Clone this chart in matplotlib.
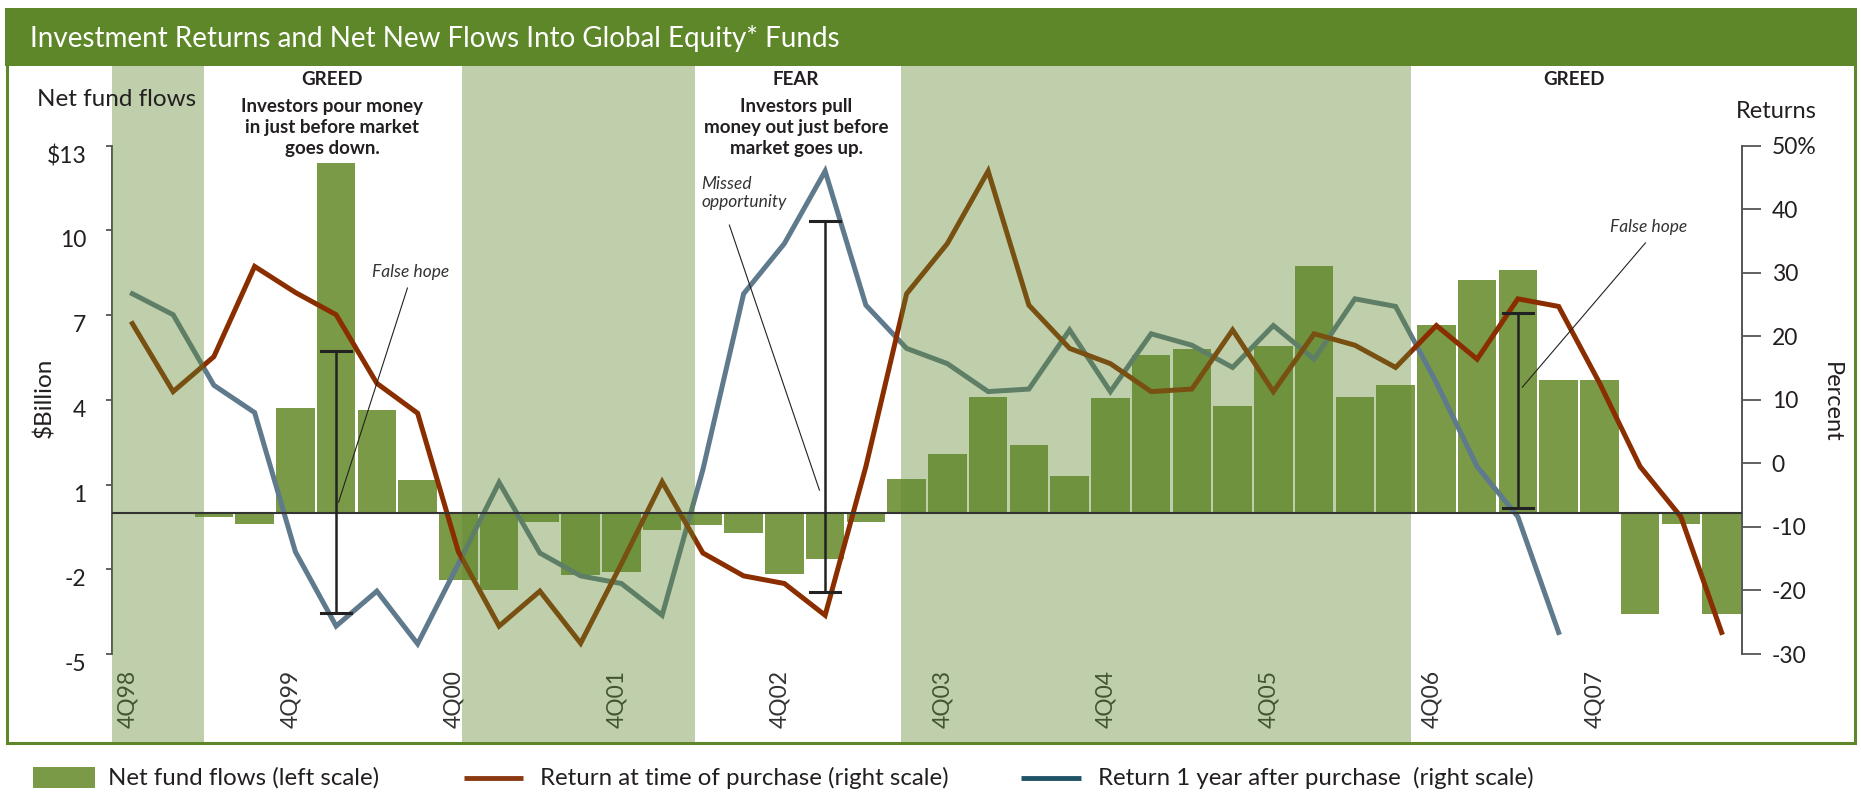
import matplotlib
matplotlib.use('Agg')
import matplotlib.pyplot as plt
from matplotlib.patches import Rectangle
from matplotlib.lines import Line2D

plt.rcParams['font.family'] = ['Lato', 'DejaVu Sans']

# Quarterly data, 4Q98 .. 3Q08
year_labels = ['4Q98', '4Q99', '4Q00', '4Q01', '4Q02', '4Q03', '4Q04', '4Q05', '4Q06', '4Q07']
year_label_pos = [0, 4, 8, 12, 16, 20, 24, 28, 32, 36]

# Net fund flows, $ billion (left scale)
flows = [-0.05, -0.02, -0.15, -0.41, 3.71, 12.38, 3.63, 1.15,
         -2.37, -2.73, -0.34, -2.20, -2.08, -0.62, -0.44, -0.73,
         -2.15, -1.62, -0.34, 1.18, 2.10, 4.09, 2.39, 1.29,
         4.05, 5.58, 5.79, 3.77, 5.89, 8.73, 4.10, 4.51,
         6.64, 8.23, 8.59, 4.72, 4.69, -3.57, -0.38, -3.57]

# Return at time of purchase, percent (right scale)
ret_purchase = [22.0, 11.3, 16.8, 31.0, 26.9, 23.4, 12.6, 7.9,
                -13.9, -25.6, -20.1, -28.3, -15.8, -2.9, -14.1, -17.7,
                -18.9, -23.9, -0.5, 26.7, 34.6, 46.0, 24.9, 18.1,
                15.7, 11.3, 11.7, 21.0, 11.3, 20.4, 18.6, 15.1,
                21.7, 16.4, 25.9, 24.7, 12.7, -0.5, -8.4, -26.6]

# Return 1 year after purchase, percent (right scale)
ret_year_after = [26.7, 23.4, 12.3, 8.0, -13.9, -25.6, -20.1, -28.4,
                  -15.8, -3.0, -14.1, -17.7, -18.9, -23.9, -1.0, 26.7,
                  34.6, 46.0, 24.9, 18.1, 15.7, 11.3, 11.7, 21.0,
                  11.3, 20.4, 18.6, 15.1, 21.7, 16.4, 25.9, 24.7,
                  12.7, -0.5, -8.4, -26.6]

# shaded periods (quarter index)
bands = [(-0.5, 1.76), (8.08, 13.8), (18.85, 31.37)]

# the "gap" markers (quarter index, top %, bottom %)
gap_x = [5, 17, 34]
gap_top = [17.7, 38.1, 23.7]
gap_bottom = [-23.6, -20.2, -7.0]

left_ticks = [-5, -2, 1, 4, 7, 10, 13]
left_ticklabels = ['-5', '-2', '1', '4', '7', '10', '$13']
right_ticks = [-30, -20, -10, 0, 10, 20, 30, 40, 50]
right_ticklabels = ['-30', '-20', '-10', '0', '10', '20', '30', '40', '50%']

green = '#5e8729'
bar_color = '#7a9a48'
red = '#8a2e00'
blue = '#5e7a8c'
band_color = '#5e882e'
text_color = '#231f20'

W, H = 1861, 793
fig = plt.figure(figsize=(W / 100, H / 100), dpi=100)

# background layer in pixel coordinates
bg = fig.add_axes([0, 0, 1, 1], zorder=-1)
bg.set_xlim(0, W)
bg.set_ylim(H, 0)
bg.axis('off')
bg.add_patch(Rectangle((5, 8), 1852, 58, color=green, lw=0))
bg.plot([7, 7, 1855, 1855], [66, 743, 743, 66], color=green, lw=2.2,
        solid_joinstyle='miter')


def ftext(x, y, s, **kw):
    return fig.text(x, y, s, transform=bg.transData, **kw)


ftext(30, 38, 'Investment Returns and Net New Flows Into Global Equity* Funds',
      color='white', fontsize=20, va='center', ha='left')

# main plot
ax = fig.add_axes([112 / W, 1 - 743 / H, 1630 / W, 677 / H])
ax.patch.set_alpha(0)
ax2 = ax.twinx()
ax2.patch.set_alpha(0)

x = list(range(len(flows)))
ax.bar(x, flows, width=0.95, color=bar_color, lw=0, zorder=2)

ax2.plot(range(len(ret_year_after)), ret_year_after, color=blue, lw=3.6,
         solid_joinstyle='miter', zorder=2)
ax2.plot(range(len(ret_purchase)), ret_purchase, color=red, lw=3.6,
         solid_joinstyle='miter', zorder=2)

for a, b in bands:
    ax2.axvspan(a, b, color=band_color, alpha=0.395, lw=0, zorder=4)

ax2.add_line(Line2D([-0.5, 39.5], [0, 0], transform=ax.transData,
                    color='#333333', lw=1.5, zorder=5))

for g, t, b in zip(gap_x, gap_top, gap_bottom):
    ax2.plot([g, g], [b, t], color='#222222', lw=1.8, zorder=6)
    ax2.plot([g - 0.37, g + 0.37], [t, t], color='#222222', lw=2.2, zorder=6)
    ax2.plot([g - 0.37, g + 0.37], [b, b], color='#222222', lw=2.2, zorder=6)

# annotations
ax2.text(6.83, 30.1, 'False hope', fontsize=12.5, style='italic', color='#333333',
         ha='center', va='center', zorder=6)
ax2.plot([6.75, 5.06], [27.6, -6.1], color='#222222', lw=0.8, zorder=6)
ax2.text(13.96, 42.6, 'Missed\nopportunity', fontsize=12.5, style='italic',
         color='#333333', ha='left', va='center', linespacing=1.15, zorder=6)
ax2.plot([14.65, 16.86], [37.5, -4.2], color='#222222', lw=0.8, zorder=6)
ax2.text(37.2, 37.2, 'False hope', fontsize=12.5, style='italic', color='#333333',
         ha='center', va='center', zorder=6)
ax2.plot([37.13, 34.11], [34.7, 12.0], color='#222222', lw=0.8, zorder=6)

# quarter labels sit under the shading
for pos, lab in zip(year_label_pos, year_labels):
    ax2.text(pos - 0.11, 0.108, lab, transform=ax2.get_xaxis_transform(),
             rotation=90, ha='center', va='top', fontsize=16.5, color='#333333',
             zorder=3)

ax.set_xlim(-0.5, 39.5)
ax.set_ylim(-8.15, 15.82)
ax2.set_ylim(-44.0, 62.54)
ax.set_xticks([])

for s in ['top', 'bottom', 'right']:
    ax.spines[s].set_visible(False)
for s in ['top', 'bottom', 'left']:
    ax2.spines[s].set_visible(False)
ax.spines['left'].set_bounds(-5, 13)
ax.spines['left'].set_color('#555555')
ax.spines['left'].set_linewidth(1.4)
ax2.spines['right'].set_bounds(-30, 50)
ax2.spines['right'].set_color('#555555')
ax2.spines['right'].set_linewidth(1.4)

ax.set_yticks(left_ticks)
ax.set_yticklabels(left_ticklabels)
ax.tick_params(axis='y', length=4.5, width=1.3, color='#555555', pad=14,
               labelsize=16.5, labelcolor=text_color)
for t in ax.get_yticklabels():
    t.set_va('top')
ax2.set_yticks(right_ticks)
ax2.set_yticklabels(right_ticklabels)
ax2.tick_params(axis='y', length=13.5, width=1.3, color='#555555', pad=8,
                labelsize=16.5, labelcolor=text_color)

# axis titles
ftext(37, 100, 'Net fund flows', fontsize=17.5, color=text_color, ha='left', va='center')
ftext(1776, 111, 'Returns', fontsize=17, color=text_color, ha='center', va='center')
ftext(44, 398, '$Billion', fontsize=17.5, color=text_color, rotation=90,
      ha='center', va='center')
ftext(1831, 402, 'Percent', fontsize=17, color=text_color, rotation=270,
      ha='center', va='center')

# GREED / FEAR headings
bold = dict(fontsize=13.5, fontweight='bold', color=text_color, ha='center',
            va='baseline')
ftext(332, 85, 'GREED', **bold)
ftext(332, 112, 'Investors pour money', **bold)
ftext(332, 133, 'in just before market', **bold)
ftext(332, 154, 'goes down.', **bold)
ftext(796, 85, 'FEAR', **bold)
ftext(796, 112, 'Investors pull', **bold)
ftext(796, 133, 'money out just before', **bold)
ftext(796, 154, 'market goes up.', **bold)
ftext(1574, 85, 'GREED', **bold)

# legend
bg.add_patch(Rectangle((33, 767), 62, 21, color=bar_color, lw=0))
bg.plot([464, 523], [778, 778], color='#8b3a12', lw=3.5, solid_capstyle='butt')
bg.plot([1021, 1081], [778, 778], color='#1f5468', lw=3.5, solid_capstyle='butt')
ftext(108, 778, 'Net fund flows (left scale)', fontsize=17.3, color=text_color,
      ha='left', va='center')
ftext(540, 778, 'Return at time of purchase (right scale)', fontsize=17.3,
      color=text_color, ha='left', va='center')
ftext(1098, 778, 'Return 1 year after purchase  (right scale)', fontsize=17.3,
      color=text_color, ha='left', va='center')

fig.savefig('out.png', dpi=100)
